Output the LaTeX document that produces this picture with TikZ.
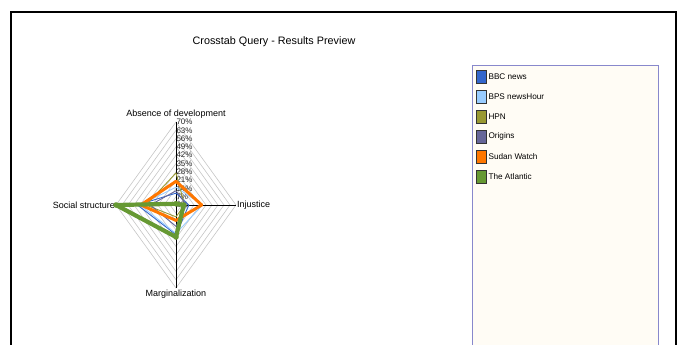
\documentclass[tikz,border=0pt]{standalone}
\usepackage{fontspec}
\setmainfont{Liberation Sans}
\usetikzlibrary{positioning}
\definecolor{bbc}{RGB}{51,102,204}
\definecolor{bps}{RGB}{153,204,255}
\definecolor{hpn}{RGB}{153,153,51}
\definecolor{orig}{RGB}{102,102,153}
\definecolor{sudan}{RGB}{255,119,0}
\definecolor{atlantic}{RGB}{102,153,51}
\definecolor{legframe}{RGB}{136,136,204}
\definecolor{legfill}{RGB}{255,252,245}
\begin{document}
\begin{tikzpicture}[x=1pt, y=-1pt,
        grade/.style={draw=gray!45, line width=0.6pt},
        eixo/.style={draw=black, line width=0.8pt},
        rotulo/.style={font=\fontsize{9}{9}\selectfont, inner sep=1pt},
        marca/.style={font=\fontsize{8}{8}\selectfont, text=black!85, inner sep=0.3pt, anchor=west},
        serie/.style={line width=0.9pt, line join=round},
        amostra/.style={draw=black!80, line width=0.7pt, minimum width=10pt, minimum height=13pt, inner sep=0pt},
        legtxt/.style={font=\fontsize{8.2}{8.2}\selectfont, inner sep=0pt, anchor=west}
    ]
    \useasboundingbox (0,0) rectangle (681,345);
    % moldura e titulo
    \draw[line width=1.6pt] (11,345) -- (11,12) -- (676,12) -- (676,345);
    \node[font=\fontsize{10.8}{11}\selectfont] (titulo) at (274,42) {Crosstab Query - Results Preview};
    % grelha do radar
    \coordinate (c) at (176,205);
    \foreach \k in {1,...,10}
        \draw[grade] (176,205-8.3*\k) -- (176+6*\k,205) -- (176,205+8.3*\k) -- (176-6*\k,205) -- cycle;
    \coordinate (topo) at (176,122);
    \coordinate (dir) at (236,205);
    \coordinate (baixo) at (176,288);
    \coordinate (esq) at (116,205);
    \draw[eixo] (topo) -- (baixo);
    \draw[eixo] (esq) -- (dir);
    \foreach \k [evaluate=\k as \v using int(7*\k)] in {0,...,10}
        \node[marca] (m\k) at (176,205-8.3*\k) {\v\%};
    % eixos
    \node[rotulo, above=2pt of topo] (absence) {Absence of development};
    \node[rotulo, right=0pt of dir] (injustice) {Injustice};
    \node[rotulo, below=1pt of baixo] (marg) {Marginalization};
    \node[rotulo, left=0pt of esq] (social) {Social structure};
    % series: topo / direita / baixo / esquerda (em %)
    \foreach \cor/\t/\r/\b/\l/\w in {bbc/10/15/25/45/0.9, bps/15/31/24/42/0.9, hpn/27/10/10/35/0.9,
                                     orig/12/12/18/30/0.9, sudan/20/30/13/41/3, atlantic/1/9/27/70/4.2}
        \draw[serie, draw=\cor, line width=\w pt] (176,205-\t*83/70) -- (176+\r*60/70,205)
            -- (176,205+\b*83/70) -- (176-\l*60/70,205) -- cycle;
    \foreach \t/\r/\b/\l in {1/9/27/70}
        \foreach \p in {(176,205-\t*83/70), (176+\r*60/70,205), (176,205+\b*83/70), (176-\l*60/70,205)}
            \fill[atlantic] \p circle (2.8);
    % legenda
    \node[draw=legframe, fill=legfill, line width=1pt, minimum width=186pt, minimum height=280pt,
          anchor=north west, inner sep=0pt] (legenda) at (472,65) {};
    \foreach \cor/\nome [count=\i] in {bbc/BBC news, bps/BPS newsHour, hpn/HPN, orig/Origins,
                                       sudan/Sudan Watch, atlantic/The Atlantic} {
        \node[amostra, fill=\cor] (a\i) at (481.5,56.5+20*\i) {};
        \node[legtxt, right=1.5pt of a\i] (t\i) {\nome};
    }
\end{tikzpicture}
\end{document}
